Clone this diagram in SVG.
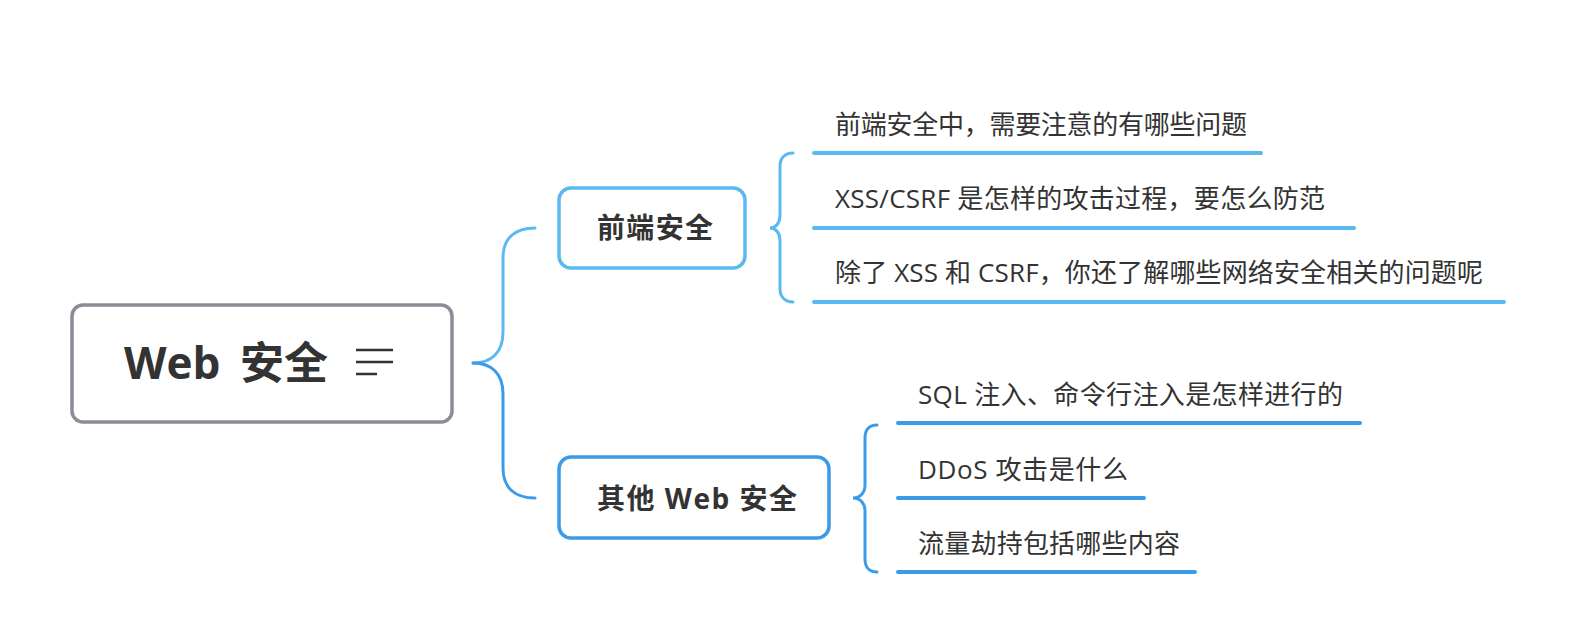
<svg xmlns="http://www.w3.org/2000/svg" width="1581" height="626" viewBox="0 0 1581 626">
<style>
.t{font-family:"Open Sans","Noto Sans CJK SC",sans-serif;fill:#333333;}
.leaf{font-size:26px;}
.b{font-weight:bold;}
.c1{stroke:#5ab9f1;fill:none;}
.c2{stroke:#3a9be9;fill:none;}
.ul{stroke-width:4;stroke-linecap:round;}
.br{stroke-width:3;stroke-linecap:round;}
</style>
<rect width="1581" height="626" fill="#ffffff"/>
<g id="connectors">
<path class="c1 br" d="M473,363 C492,363 503,352 503,332 L503,258 C503,238 515,228 535,228"/>
<path class="c2 br" d="M473,363 C492,363 503,374 503,394 L503,468 C503,488 515,498 535,498"/>
<path class="c1 br" d="M793,153 C785,153 780,158 780,166 L780,215 C780,223 776,228 770,228 C776,228 780,233 780,241 L780,289 C780,297 785,302 793,302"/>
<path class="c2 br" d="M877,425 C869,425 865,430 865,438 L865,485 C865,493 860,498 853,498 C860,498 865,503 865,511 L865,559 C865,567 869,572 877,572"/>
</g>
<g id="root">
<rect x="72" y="305" width="380" height="117" rx="11" fill="#ffffff" stroke="#8c8c96" stroke-width="3.5"/>
<text class="t b" y="379" font-size="44"><tspan x="124">Web</tspan><tspan x="240">安全</tspan></text>
<g stroke="#333333" stroke-width="2.5">
<line x1="356" y1="350" x2="393" y2="350"/>
<line x1="356" y1="362" x2="393" y2="362"/>
<line x1="356" y1="374" x2="377" y2="374"/>
</g>
</g>
<g id="node-frontend">
<rect x="559" y="188" width="186" height="80" rx="12" fill="#ffffff" stroke="#5ab9f1" stroke-width="3.5"/>
<text class="t b" x="597" y="238" font-size="28" textLength="116">前端安全</text>
</g>
<g id="node-other">
<rect x="559" y="457" width="270" height="81" rx="12" fill="#ffffff" stroke="#3a9be9" stroke-width="3.5"/>
<text class="t b" x="597" y="509" font-size="28" textLength="200">其他 Web 安全</text>
</g>
<g id="leaf-1">
<text class="t leaf" x="835" y="134" textLength="412">前端安全中，需要注意的有哪些问题</text>
<line class="c1 ul" x1="814" y1="153" x2="1261" y2="153"/>
</g>
<g id="leaf-2">
<text class="t leaf" x="835" y="208" textLength="490">XSS/CSRF 是怎样的攻击过程，要怎么防范</text>
<line class="c1 ul" x1="814" y1="228" x2="1354" y2="228"/>
</g>
<g id="leaf-3">
<text class="t leaf" x="835" y="282" textLength="648">除了 XSS 和 CSRF，你还了解哪些网络安全相关的问题呢</text>
<line class="c1 ul" x1="814" y1="302" x2="1504" y2="302"/>
</g>
<g id="leaf-4">
<text class="t leaf" x="918" y="404" textLength="425">SQL 注入、命令行注入是怎样进行的</text>
<line class="c2 ul" x1="898" y1="423" x2="1360" y2="423"/>
</g>
<g id="leaf-5">
<text class="t leaf" x="918" y="479" textLength="210">DDoS 攻击是什么</text>
<line class="c2 ul" x1="898" y1="498" x2="1144" y2="498"/>
</g>
<g id="leaf-6">
<text class="t leaf" x="918" y="553" textLength="262">流量劫持包括哪些内容</text>
<line class="c2 ul" x1="898" y1="572" x2="1195" y2="572"/>
</g>
</svg>
